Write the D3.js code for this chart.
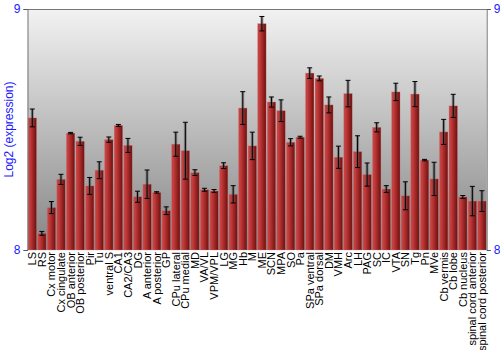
<!DOCTYPE html>
<html>
<head>
<meta charset="utf-8">
<script src="https://cdn.jsdelivr.net/npm/d3@7"></script>
<style>
  body { margin: 0; background: #fff; }
  svg { font-family: "Liberation Sans", Arial, sans-serif; }
</style>
</head>
<body>
<div id="chart"></div>
<script>
const regions = ['LS', 'RS', 'Cx motor', 'Cx cingulate', 'OB anterior', 'OB posterior', 'Pir', 'Tu',
  'ventral S', 'CA1', 'CA2/CA3', 'DG', 'A anterior', 'A posterior', 'GP', 'CPu lateral', 'CPu medial',
  'MD', 'VA/VL', 'VPM/VPL', 'LG', 'MG', 'Hb', 'M', 'ME', 'SCN', 'MPA', 'SO', 'Pa', 'SPa ventral',
  'SPa dorsal', 'DM', 'VMH', 'Arc', 'LH', 'PAG', 'SC', 'IC', 'VTA', 'SN', 'Tg', 'Pn', 'MVe',
  'Cb vermis', 'Cb lobe', 'Cb nucleus', 'spinal cord anterior', 'spinal cord posterior'];
const expression = [8.548, 8.069, 8.176, 8.293, 8.485, 8.451, 8.266, 8.331,
  8.458, 8.517, 8.434, 8.221, 8.273, 8.239, 8.163, 8.439, 8.412,
  8.321, 8.250, 8.245, 8.350, 8.231, 8.589, 8.432, 8.939, 8.614, 8.578, 8.447, 8.468, 8.734,
  8.712, 8.602, 8.385, 8.649, 8.408, 8.313, 8.509, 8.253, 8.656, 8.225, 8.647, 8.373, 8.295,
  8.490, 8.598, 8.220, 8.203, 8.203];
const errors = [0.037, 0.008, 0.025, 0.021, 0.003, 0.017, 0.035, 0.035,
  0.011, 0.004, 0.029, 0.023, 0.059, 0.003, 0.016, 0.050, 0.118,
  0.012, 0.006, 0.006, 0.012, 0.036, 0.068, 0.057, 0.030, 0.021, 0.045, 0.015, 0.004, 0.022,
  0.010, 0.033, 0.046, 0.055, 0.066, 0.048, 0.019, 0.014, 0.036, 0.058, 0.052, 0.003, 0.069,
  0.052, 0.048, 0.006, 0.061, 0.043];
const yTicks = [8, 9];

const width = 500, height = 350;
const plotLeft = 27.5, plotRight = 486.7, plotTop = 9, plotBottom = 250;

const svg = d3.select('#chart').append('svg')
  .attr('width', width)
  .attr('height', height);

const defs = svg.append('defs');
const bg = defs.append('linearGradient').attr('id', 'bg')
  .attr('x1', 0).attr('y1', 0).attr('x2', 0).attr('y2', 1);
bg.append('stop').attr('offset', '0%').attr('stop-color', '#f2f2f2');
bg.append('stop').attr('offset', '100%').attr('stop-color', '#858585');

const barGrad = defs.append('linearGradient').attr('id', 'bar')
  .attr('x1', 0).attr('y1', 0).attr('x2', 1).attr('y2', 0);
barGrad.append('stop').attr('offset', '0%').attr('stop-color', '#c24a4a');
barGrad.append('stop').attr('offset', '25%').attr('stop-color', '#c43a3a');
barGrad.append('stop').attr('offset', '100%').attr('stop-color', '#6e0f0f');

const x = d3.scaleBand()
  .domain(regions)
  .range([plotLeft, plotRight])
  .paddingInner(0.12)
  .paddingOuter(0.06);

const y = d3.scaleLinear()
  .domain([8, 9])
  .range([plotBottom, plotTop]);

// plot background
svg.append('rect')
  .attr('x', plotLeft)
  .attr('y', plotTop)
  .attr('width', plotRight - plotLeft)
  .attr('height', plotBottom - plotTop)
  .attr('fill', 'url(#bg)');

// bars
svg.append('g')
  .selectAll('rect')
  .data(regions)
  .join('rect')
    .attr('x', d => x(d))
    .attr('y', (d, i) => y(expression[i]))
    .attr('width', x.bandwidth())
    .attr('height', (d, i) => y(8) - y(expression[i]))
    .attr('fill', 'url(#bar)')
    .attr('stroke', '#d47a7a')
    .attr('stroke-opacity', 0.5)
    .attr('stroke-width', 0.6);

// error bars
const err = svg.append('g')
  .selectAll('g')
  .data(regions)
  .join('g')
    .attr('transform', d => `translate(${x(d) + x.bandwidth() / 2},0)`);
err.append('line')
  .attr('y1', (d, i) => y(expression[i] + errors[i]))
  .attr('y2', (d, i) => y(expression[i] - errors[i]))
  .attr('stroke', '#555')
  .attr('stroke-opacity', 0.5)
  .attr('stroke-width', 3);
err.append('line')
  .attr('y1', (d, i) => y(expression[i] + errors[i]))
  .attr('y2', (d, i) => y(expression[i] - errors[i]))
  .attr('stroke', '#000')
  .attr('stroke-width', 1);
[1, -1].forEach(s => {
  err.append('line')
    .attr('x1', -2.5)
    .attr('x2', 2.5)
    .attr('y1', (d, i) => y(expression[i] + s * errors[i]))
    .attr('y2', (d, i) => y(expression[i] + s * errors[i]))
    .attr('stroke', '#000')
    .attr('stroke-width', 1);
});

// frame lines
svg.append('line')
  .attr('x1', plotLeft).attr('x2', plotRight)
  .attr('y1', plotTop + 0.5).attr('y2', plotTop + 0.5)
  .attr('stroke', '#777').attr('stroke-width', 1);

// axes
const leftAxis = svg.append('g')
  .attr('transform', `translate(${plotLeft},0)`)
  .call(d3.axisLeft(y).tickValues(yTicks).tickSize(4).tickFormat(d3.format('d')));
const rightAxis = svg.append('g')
  .attr('transform', `translate(${plotRight},0)`)
  .call(d3.axisRight(y).tickValues(yTicks).tickSize(4).tickFormat(d3.format('d')));
[leftAxis, rightAxis].forEach(a => {
  a.select('.domain').attr('stroke', '#777');
  a.selectAll('.tick line').attr('stroke', '#555');
  a.selectAll('.tick text')
    .attr('fill', '#1a1aff')
    .style('font-size', '12px')
    .style('font-family', '"Liberation Sans", Arial, sans-serif');
});

// category labels
svg.append('g')
  .selectAll('text')
  .data(regions)
  .join('text')
    .attr('transform', d => `translate(${x(d) + x.bandwidth() / 2 + 4},${plotBottom + 2}) rotate(-90)`)
    .attr('text-anchor', 'end')
    .attr('font-size', '11px')
    .attr('fill', '#000')
    .text(d => d);

// y title
svg.append('text')
  .attr('transform', `translate(13,${(plotTop + plotBottom) / 2}) rotate(-90)`)
  .attr('text-anchor', 'middle')
  .attr('font-size', '12px')
  .attr('fill', '#1a1aff')
  .text('Log2 (expression)');
</script>
</body>
</html>
